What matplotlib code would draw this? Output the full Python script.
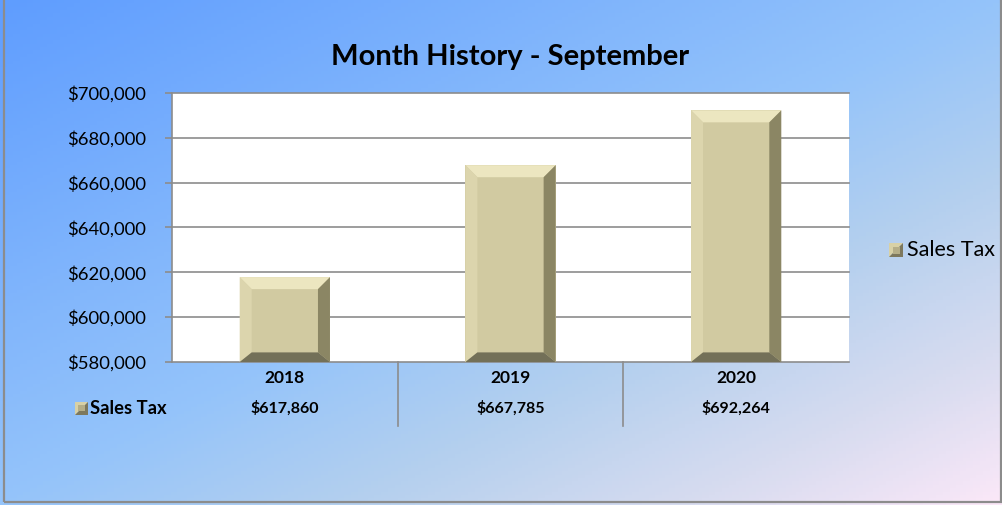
import numpy as np
import matplotlib.pyplot as plt
from matplotlib.colors import LinearSegmentedColormap
from matplotlib.patches import Polygon, Rectangle
from matplotlib.ticker import FuncFormatter

plt.rcParams['font.family'] = ['Lato', 'DejaVu Sans']

# данные
years = ['2018', '2019', '2020']
sales_tax = [617860, 667785, 692264]
series_name = 'Sales Tax'
title = 'Month History - September'
y_ticks = [580000, 600000, 620000, 640000, 660000, 680000, 700000]

W, H = 1003, 505
fig = plt.figure(figsize=(W / 100, H / 100), dpi=100)

# фон с диагональным градиентом
bg = fig.add_axes([0, 0, 1, 1], zorder=-10)
bg.set_axis_off()
cmap = LinearSegmentedColormap.from_list('bg', [
    (0.0, '#5f9dff'), (0.5, '#95c4fa'), (0.68, '#b5d0ee'),
    (0.85, '#d8dcf0'), (1.0, '#fbe8f8')])
gx, gy = np.meshgrid(np.linspace(0, 1, 300), np.linspace(0, 1, 150))
bg.imshow((gx + gy) / 2, cmap=cmap, aspect='auto', extent=[0, 1, 1, 0], vmin=0, vmax=1)
bg.set_xlim(0, 1)
bg.set_ylim(1, 0)
bg.add_patch(Rectangle((4 / W, 3.5 / H), 997 / W, 510 / H, fill=False,
                       edgecolor='#8c8c8c', lw=1.6, transform=bg.transAxes, clip_on=False))

# область построения
x0, x1, ytop, ybot = 172, 849, 93, 362
ax = fig.add_axes([x0 / W, 1 - ybot / H, (x1 - x0) / W, (ybot - ytop) / H])
ax.set_facecolor('white')
ax.set_xlim(-0.5, len(years) - 0.5)
ax.set_ylim(y_ticks[0], y_ticks[-1])
ax.set_yticks(y_ticks)
ax.yaxis.set_major_formatter(FuncFormatter(lambda v, p: f'${v:,.0f}'))
ax.set_xticks([])
ax.tick_params(axis='y', length=5, color='#8c8c8c', width=1.2, labelsize=13.3, pad=13.5)
for s in ['top', 'right', 'bottom']:
    ax.spines[s].set_visible(False)
ax.spines['left'].set_color('#8c8c8c')
ax.spines['left'].set_linewidth(1.2)
for v in y_ticks:
    ax.axhline(v, color='#8c8c8c', lw=1.2, zorder=1, clip_on=False)

# столбцы с фаской
xs = np.arange(len(years))
bw = 0.4
bars = ax.bar(xs, sales_tax, width=bw, color='#d1caa1', zorder=2)
dx = 12 * (len(years)) / (x1 - x0)
dy = 12 * (y_ticks[-1] - y_ticks[0]) / (ybot - ytop)
base = y_ticks[0]
for b, v in zip(bars, sales_tax):
    l, r = b.get_x(), b.get_x() + b.get_width()
    faces = [
        ([(l, v), (r, v), (r - dx, v - dy), (l + dx, v - dy)], '#ece6c0'),
        ([(l, v), (l + dx, v - dy), (l + dx, base + dy * 0.8), (l, base)], '#dcd5ad'),
        ([(r, v), (r - dx, v - dy), (r - dx, base + dy * 0.8), (r, base)], '#8b8664'),
        ([(l, base), (l + dx, base + dy * 0.8), (r - dx, base + dy * 0.8), (r, base)], '#737058'),
    ]
    for pts, c in faces:
        ax.add_patch(Polygon(pts, closed=True, facecolor=c, edgecolor='none', zorder=3, clip_on=False))

ax.set_title(title, fontsize=21, fontweight='bold', pad=20)

# таблица данных под осью
for i, (yr, v) in enumerate(zip(years, sales_tax)):
    ax.text(i, -0.06, yr, transform=ax.get_xaxis_transform(), ha='center', va='center',
            fontsize=12.5, fontweight='bold')
    ax.text(i, -0.172, f'${v:,.0f}', transform=ax.get_xaxis_transform(), ha='center',
            va='center', fontsize=11.5, fontweight='bold')
for i in range(len(years) - 1):
    ax.plot([i + 0.5, i + 0.5], [0, -0.238], transform=ax.get_xaxis_transform(),
            color='#8c8c8c', lw=1.2, clip_on=False)


def legend_key(xp, yp, size):
    # маленький значок с фаской
    xl, yb = xp / W, 1 - (yp + size / 2) / H
    sw, sh = size / W, size / H
    fig.patches.append(Polygon([(xl, yb), (xl, yb + sh), (xl + sw, yb + sh)], closed=True,
                               facecolor='#d8d1a6', edgecolor='none', transform=fig.transFigure))
    fig.patches.append(Polygon([(xl, yb), (xl + sw, yb), (xl + sw, yb + sh)], closed=True,
                               facecolor='#7d785d', edgecolor='none', transform=fig.transFigure))
    fig.patches.append(Rectangle((xl + sw * 0.25, yb + sh * 0.25), sw * 0.5, sh * 0.5,
                                 facecolor='#b5ae88', edgecolor='none', transform=fig.transFigure))


legend_key(75, 408, 13)
fig.text(90 / W, 1 - 408 / H, series_name, ha='left', va='center', fontsize=13.2, fontweight='bold')
legend_key(889, 250, 14)
fig.text(907 / W, 1 - 250 / H, series_name, ha='left', va='center', fontsize=15.5)

fig.savefig('out.png', dpi=100)
